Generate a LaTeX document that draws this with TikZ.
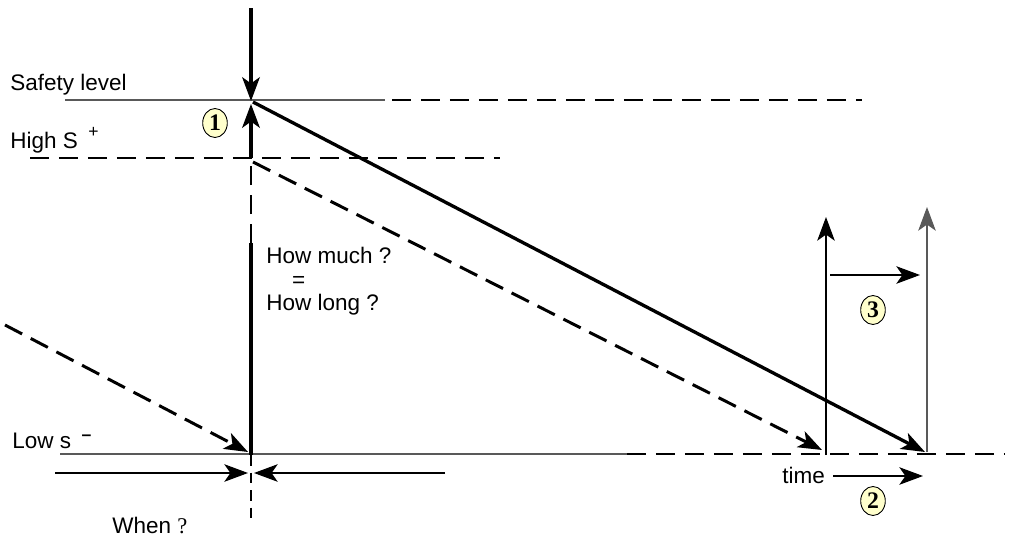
\documentclass[tikz,border=0pt]{standalone}
\usepackage{fontspec}
\setmainfont{Liberation Sans}
\newfontfamily\numfont{Liberation Serif}
\usetikzlibrary{arrows.meta, shapes.geometric}
\definecolor{notefill}{HTML}{FFFFCC}
\definecolor{lightline}{gray}{0.35}

\begin{document}
\begin{tikzpicture}[x=0.02cm, y=-0.02cm, line join=round,
    every node/.style={font=\fontsize{12.8}{13.3}\selectfont, inner sep=0pt},
    heavy/.style={line width=1.9pt},
    light/.style={line width=0.65pt},
    dashline/.style={line width=1.7pt, dash pattern=on 11pt off 5.5pt},
    tip/.style={-{Stealth[length=13.5pt, width=10pt, inset=3.5pt]}},
    marker/.style={ellipse, draw, line width=0.5pt, fill=notefill, inner sep=0.5pt,
        minimum width=14pt, minimum height=16.5pt,
        font=\numfont\bfseries\fontsize{13.5}{13.5}\selectfont}]

    % picture frame: same proportions as the page
    \useasboundingbox (0,0) rectangle (1009,538);

    % Levels on the vertical axis at the decision instant
    \coordinate (top) at (251,8);
    \coordinate (S) at (251,101);
    \coordinate (Sup) at (251,104);
    \coordinate (H) at (251,158);
    \coordinate (mid) at (251,243);
    \coordinate (L) at (251,455);
    \coordinate (Ldown) at (251,518);

    % ==========================================
    % LEVEL LINES
    % ==========================================

    % Safety level
    \coordinate (safeA) at (65,100);
    \coordinate (safeB) at (385,100);
    \coordinate (safeC) at (392,100);
    \coordinate (safeD) at (862,100);
    \draw[light, lightline] (safeA) -- (safeB);
    \draw[dashline] (safeC) -- (safeD);

    % High S+
    \coordinate (highA) at (30,158);
    \coordinate (highB) at (500,158);
    \draw[dashline] (highA) -- (highB);

    % Low s-
    \coordinate (lowA) at (60,454);
    \coordinate (lowB) at (627,454);
    \coordinate (lowC) at (1005,454);
    \draw[light, lightline] (lowA) -- (lowB);
    \draw[dashline] (lowB) -- (lowC);

    \node[anchor=base west] (safety) at (10,90) {Safety level};
    \node[anchor=base west] (high) at (10,148)
        {High S\hspace{6pt}\raisebox{6pt}{\fontsize{10}{10}\selectfont +}};
    \node[anchor=base west] (low) at (12,448)
        {Low s\hspace{6pt}\raisebox{4.5pt}{\fontsize{10}{10}\selectfont\bfseries –}};

    % ==========================================
    % VERTICAL AXIS (ORDER QUANTITY)
    % ==========================================

    \draw[heavy, tip] (top) -- (S);
    \draw[heavy] (L) -- (mid);
    \draw[dashline] (mid) -- (H);
    \draw[heavy, tip] (H) -- (Sup);
    \draw[line width=1.3pt, dash pattern=on 6pt off 4pt] (L) -- (Ldown);

    \node[marker] (m1) at (215,123) {1};

    \node[anchor=north west, align=left] (howmuch) at (266,247)
        {How much ?\\\hspace{1.15em}=\\How long ?};

    % ==========================================
    % CONSUMPTION SLOPES
    % ==========================================

    \coordinate (solidA) at (253,102);
    \coordinate (solidB) at (925,452);
    \coordinate (dashA) at (253,162);
    \coordinate (dashB) at (822,450);
    \coordinate (prevA) at (5,325);
    \coordinate (prevB) at (248,452);
    \draw[heavy, tip] (solidA) -- (solidB);
    \draw[dashline, tip] (dashA) -- (dashB);
    \draw[dashline, tip] (prevA) -- (prevB);

    % ==========================================
    % WHEN ? (ARROWS ON THE TIME AXIS)
    % ==========================================

    \coordinate (whenA) at (55,473);
    \coordinate (whenB) at (248,473);
    \coordinate (whenC) at (445,473);
    \coordinate (whenD) at (254,473);
    \draw[light, tip] (whenA) -- (whenB);
    \draw[light, tip] (whenC) -- (whenD);
    \node[anchor=base west] (when) at (112,533) {When {\numfont ?}};

    % ==========================================
    % RIGHT SIDE: TIME AND REPLENISHMENT
    % ==========================================

    \coordinate (upA) at (826,455);
    \coordinate (upB) at (826,217);
    \coordinate (upC) at (927,452);
    \coordinate (upD) at (927,207);
    \coordinate (stepA) at (830,275);
    \coordinate (stepB) at (920,275);
    \draw[light, tip] (upA) -- (upB);
    \draw[light, lightline, tip] (upC) -- (upD);
    \draw[light, tip] (stepA) -- (stepB);
    \node[marker] (m3) at (873,310) {3};

    \node[anchor=base west] (time) at (782,483) {time};
    \coordinate (timeA) at (833,476);
    \coordinate (timeB) at (923,476);
    \draw[light, tip] (timeA) -- (timeB);
    \node[marker] (m2) at (873,501) {2};

\end{tikzpicture}
\end{document}
